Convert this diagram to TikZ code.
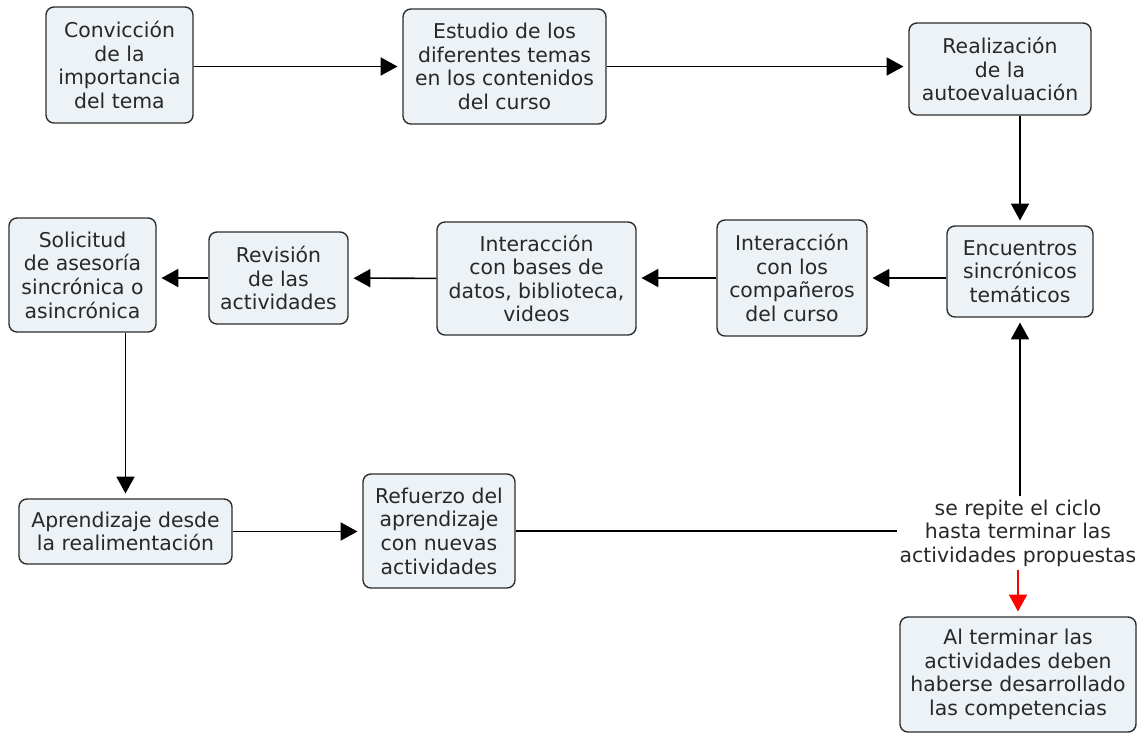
\documentclass[tikz,border=0pt]{standalone}
\usepackage{fontspec}
\setmainfont{DejaVu Sans}
\usepackage{tikz}
\usetikzlibrary{arrows.meta}
\definecolor{boxfill}{RGB}{236,242,246}
\definecolor{boxline}{RGB}{45,45,45}
\definecolor{txt}{RGB}{40,40,40}
\tikzstyle{concept} = [rectangle, rounded corners=0.2cm, text centered, align=center, draw=boxline, line width=1pt, fill=boxfill, text=txt, inner sep=2pt, font=\fontsize{14.5}{16.8}\selectfont]
\tikzstyle{phrase} = [align=center, text=txt, inner sep=2pt, font=\fontsize{14.5}{16.8}\selectfont]
\tikzstyle{arrow} = [line width=1.1pt, draw=black, -{Triangle[length=0.42cm,width=0.45cm]}, shorten >=0.12cm]
\tikzstyle{link} = [line width=1.1pt, draw=black]

\begin{document}
\begin{tikzpicture}[x=0.025cm,y=-0.025cm]
\useasboundingbox (0,0) rectangle (1138,733);
% first row
\node (conviccion) [concept, minimum width=3.675cm, minimum height=2.9cm] at (119.5,65) {Convicción\\de la\\importancia\\del tema};
\node (estudio) [concept, minimum width=5.075cm, minimum height=2.875cm] at (504.5,66.5) {Estudio de los\\diferentes temas\\en los contenidos\\del curso};
\node (realizacion) [concept, minimum width=4.55cm, minimum height=2.3cm] at (1000,69) {Realización\\de la\\autoevaluación};
% second row
\node (encuentros) [concept, minimum width=3.65cm, minimum height=2.275cm] at (1020,271.5) {Encuentros\\sincrónicos\\temáticos};
\node (companeros) [concept, minimum width=3.75cm, minimum height=2.9cm] at (792,278) {Interacción\\con los\\compañeros\\del curso};
\node (bases) [concept, minimum width=4.975cm, minimum height=2.825cm] at (536.5,278.5) {Interacción\\con bases de\\datos, biblioteca,\\videos};
\node (revision) [concept, minimum width=3.475cm, minimum height=2.3cm] at (278.5,278) {Revisión\\de las\\actividades};
\node (solicitud) [concept, minimum width=3.675cm, minimum height=2.85cm] at (82.5,275) {Solicitud\\de asesoría\\sincrónica o\\asincrónica};
% third row
\node (aprendizaje) [concept, minimum width=5.325cm, minimum height=1.625cm] at (125.5,531.5) {Aprendizaje desde\\la realimentación};
\node (refuerzo) [concept, minimum width=3.8cm, minimum height=2.85cm] at (439,531) {Refuerzo del\\aprendizaje\\con nuevas\\actividades};
\node (ciclo) [phrase] at (1018,533) {se repite el ciclo\\hasta terminar las\\actividades propuestas};
\node (alterminar) [concept, minimum width=5.9cm, minimum height=2.875cm] at (1018,674.5) {Al terminar las\\actividades deben\\haberse desarrollado\\las competencias};

\draw [arrow] (conviccion.east |- estudio) -- (estudio);
\draw [arrow] (estudio) -- (realizacion.west |- estudio);
\draw [arrow] (realizacion.south -| encuentros) -- (encuentros);
\draw [arrow] (encuentros.west |- companeros) -- (companeros);
\draw [arrow] (companeros) -- (bases.east |- companeros);
\draw [arrow] (bases) -- (revision);
\draw [arrow] (revision) -- (solicitud.east |- revision);
\draw [arrow] (solicitud.south -| aprendizaje) -- (aprendizaje);
\draw [arrow] (aprendizaje) -- (refuerzo.west |- aprendizaje);
\draw [link] (refuerzo.east) -- (ciclo.west |- refuerzo.east);
\draw [arrow] (ciclo.north -| encuentros) -- (encuentros);
\draw [arrow, draw=red, fill=red] (ciclo) -- (alterminar);
\end{tikzpicture}
\end{document}
